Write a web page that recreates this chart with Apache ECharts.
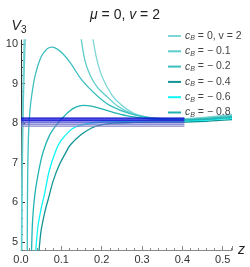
<!DOCTYPE html>
<html><head><meta charset="utf-8">
<script src="https://cdn.jsdelivr.net/npm/echarts@6/dist/echarts.min.js"></script>
<style>html,body{margin:0;padding:0;background:#fff}#c{width:250px;height:267px}</style>
</head><body><div id="c"></div>
<script>
// ---- data ----
const legendNames = ["c_B = 0, v = 2", "c_B = − 0.1", "c_B = − 0.2", "c_B = − 0.4", "c_B = − 0.6", "c_B = − 0.8"];
const seriesColors = ["#7fd6d6", "#5ccccc", "#3dbfbf", "#129494", "#11f5f5", "#22b3b3"];
// curves as [z, V] pairs; null breaks a branch
const cB0 = [[0.001,4.7],[0.002,6.5],[0.004,8.5],[0.008,10.3],null,[0.176,10.3],[0.186,9.7],[0.2,9.2],[0.226,8.7],[0.25,8.45],[0.28,8.25],[0.32,8.14],[0.36,8.11],[0.4,8.11],[0.46,8.15],[0.523,8.22]];
const cBm01 = [[0.002,4.7],[0.003,6.5],[0.006,8.6],[0.011,10.3],null,[0.147,10.3],[0.158,9.6],[0.172,9.2],[0.19,8.9],[0.21,8.7],[0.24,8.43],[0.28,8.22],[0.32,8.13],[0.36,8.1],[0.4,8.1],[0.46,8.13],[0.523,8.19]];
const cBm02 = [[0.0155,4.7],[0.016,6.0],[0.017,7.0],[0.019,7.8],[0.022,8.3],[0.0265,8.7],[0.035,9.2],[0.05,9.68],[0.065,9.88],[0.077,9.92],[0.09,9.87],[0.105,9.74],[0.122,9.53],[0.15,9.1],[0.188,8.7],[0.22,8.45],[0.27,8.24],[0.32,8.14],[0.36,8.11],[0.4,8.09],[0.46,8.12],[0.523,8.17]];
const cBm04 = [[0.044,4.7],[0.05,5.3],[0.06,5.8],[0.068,6.1],[0.08,6.55],[0.095,6.95],[0.109,7.22],[0.122,7.45],[0.15,7.72],[0.175,7.88],[0.196,7.95],[0.23,8.0],[0.28,8.02],[0.34,8.03],[0.4,8.03],[0.46,8.05],[0.523,8.09]];
const cBm06 = [[0.036,4.7],[0.042,5.4],[0.05,5.85],[0.058,6.2],[0.07,6.8],[0.086,7.3],[0.099,7.56],[0.12,7.8],[0.134,7.9],[0.16,7.98],[0.2,8.03],[0.26,8.05],[0.32,8.06],[0.4,8.06],[0.46,8.08],[0.523,8.12]];
const cBm08 = [[0.026,4.7],[0.029,5.6],[0.035,6.25],[0.045,6.85],[0.055,7.28],[0.07,7.68],[0.085,7.92],[0.1,8.1],[0.12,8.3],[0.137,8.41],[0.154,8.45],[0.175,8.43],[0.2,8.36],[0.23,8.27],[0.27,8.17],[0.32,8.11],[0.36,8.09],[0.4,8.08],[0.46,8.1],[0.523,8.15]];
const curves = [cB0, cBm01, cBm02, cBm04, cBm06, cBm08];
// horizontal reference levels (z from 0 to 0.405)
const levelRange = [0, 0.405];
const levelValues = [8.13, 8.10, 8.065, 8.025, 7.975, 7.925];
const levelColors = ["#0000c8", "#1010e0", "#2a2ad8", "#4848d0", "#6a6acc", "#8484c4"];
const xTicks = [0, 0.1, 0.2, 0.3, 0.4, 0.5];
const yTicks = [5, 6, 7, 8, 9, 10];
const yMinorTicks = [];
for (let v = 4.8; v <= 10.1; v += 0.2) { const r = Math.round(v*10)/10; if (!yTicks.includes(r)) yMinorTicks.push(r); }

const chart = echarts.init(document.getElementById('c'), null, {renderer: 'canvas'});
const font = 'Liberation Sans, Arial, sans-serif';
const series = curves.map((d, i) => ({
  name: legendNames[i], type: 'line', data: d, showSymbol: false, symbol: 'none',
  connectNulls: false, clip: true, smooth: 0.3,
  lineStyle: {color: seriesColors[i], width: 1.3}, itemStyle: {color: seriesColors[i]}, z: 2
}));
levelValues.forEach((v, i) => {
  series.push({type: 'line', data: [[levelRange[0], v], [levelRange[1], v]], showSymbol: false, symbol: 'none',
    lineStyle: {color: levelColors[i], width: 1.2}, silent: true, z: 3});
});

chart.setOption({
  animation: false,
  textStyle: {fontFamily: font},
  title: {
    text: '{i|μ} = 0, {i|v} = 2', left: 'center', top: 3,
    textStyle: {fontSize: 14, fontWeight: 'normal', color: '#222', fontFamily: font,
      rich: {i: {fontStyle: 'italic', fontSize: 14, color: '#222', fontFamily: font}}}
  },
  legend: {
    data: legendNames, orient: 'vertical', left: 163, top: 25, itemWidth: 13, itemHeight: 2, icon: 'rect',
    itemGap: 3.3,
    formatter: n => {
      const m = n.split('_B');
      return '{c|' + m[0] + '}{s|B}{t|' + m[1] + '}';
    },
    textStyle: {color: '#444', fontSize: 10.5, padding: [0,0,0,-1], lineHeight: 12,
      rich: {
        c: {fontStyle: 'italic', fontSize: 10.5, color: '#444', fontFamily: font, lineHeight: 12},
        s: {fontStyle: 'italic', fontSize: 7, color: '#444', fontFamily: font, verticalAlign: 'bottom', padding: [4,0,0,0], lineHeight: 12},
        t: {fontSize: 10.5, color: '#444', fontFamily: font, lineHeight: 12}
      }}
  },
  grid: {left: 21, right: 18, top: 40, bottom: 17, containLabel: false},
  xAxis: {
    type: 'value', min: 0, max: 0.523, interval: 0.1,
    name: 'z', nameLocation: 'end', nameGap: 6,
    nameTextStyle: {fontStyle: 'italic', fontSize: 14, color: '#222', fontFamily: font, verticalAlign: 'middle'},
    axisLine: {lineStyle: {color: '#888', width: 1}},
    axisTick: {inside: true, length: 4, lineStyle: {color: '#888'}},
    minorTick: {show: true, splitNumber: 5, length: 2, lineStyle: {color: '#888'}},
    splitLine: {show: false},
    axisLabel: {customValues: xTicks, formatter: v => v.toFixed(1), fontSize: 11, color: '#333', margin: 4, fontFamily: font}
  },
  yAxis: [{
    type: 'value', min: 4.8, max: 10.1,
    name: '{v|V}{s|3}', nameLocation: 'end', nameGap: 5,
    nameTextStyle: {align: 'center', padding: [0, 0, 0, -4],
      rich: {v: {fontStyle: 'italic', fontSize: 14, color: '#222', fontFamily: font},
             s: {fontSize: 10, color: '#222', fontFamily: font, verticalAlign: 'bottom', padding: [8,0,0,0]}}},
    axisLine: {show: true, lineStyle: {color: '#333', width: 1}},
    axisTick: {show: true, inside: true, length: 4, customValues: yTicks, lineStyle: {color: '#333'}},
    splitLine: {show: false},
    axisLabel: {customValues: yTicks, fontSize: 11, color: '#333', margin: 3, fontFamily: font}
  }, {
    type: 'value', min: 4.8, max: 10.1, position: 'left',
    axisLine: {show: false}, axisLabel: {show: false}, splitLine: {show: false},
    axisTick: {show: true, inside: true, length: 2, customValues: yMinorTicks, lineStyle: {color: '#333'}}
  }],
  series: series
});
</script></body></html>
